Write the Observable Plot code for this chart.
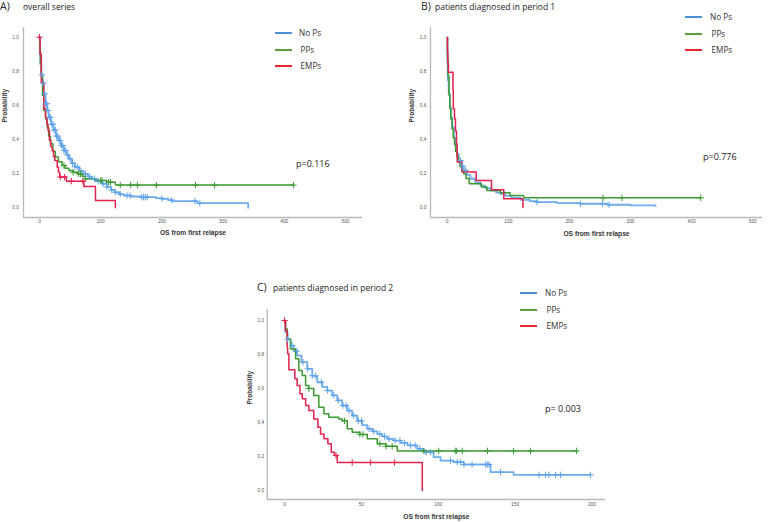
<!DOCTYPE html>
<html>
<head>
<meta charset="utf-8">
<script src="https://cdn.jsdelivr.net/npm/d3@7"></script>
<script src="https://cdn.jsdelivr.net/npm/@observablehq/plot@0.6"></script>
<style>
  body { margin: 0; background: #fff; }
  #wrap { position: relative; width: 770px; height: 522px; overflow: hidden; font-family: 'Open Sans', sans-serif; color: #222; }
  .abs { position: absolute; }
  .lt { position: absolute; line-height: 1; transform: translateY(-50%); white-space: nowrap; }
</style>
</head>
<body>
<div id="wrap"></div>
<script>
// ---------- DATA (time, survival probability) ----------
const seriesNames = ["No Ps", "PPs", "EMPs"];
const seriesColors = ["#5fa3ea", "#3b9a30", "#e3214c"];
const legendColors = ["#4f8fd8", "#5c9e3c", "#e8262e"];
const yTicks = [0, 0.2, 0.4, 0.6, 0.8, 1.0];
const xTicksAB = [0, 100, 200, 300, 400, 500];
const xTicksC = [0, 50, 100, 150, 200];
const pValues = ["p=0.116", "p=0.776", "p= 0.003"];
const titles = [["A)", "overall series"], ["B)", "patients diagnosed in period 1"], ["C)", "patients diagnosed in period 2"]];

// Panel A – overall series
const aNoPs = [[0,1],[0.5,0.9],[1.5,0.84],[3,0.78],[5,0.73],[7,0.67],[10,0.61],[12.5,0.57],[15,0.53],[19,0.49],[23,0.455],[27,0.42],[31,0.395],[35,0.365],[40,0.335],[44,0.31],[48,0.287],[53,0.262],[58,0.24],[65,0.215],[72,0.199],[79,0.183],[86,0.17],[94,0.155],[102,0.141],[110,0.122],[117,0.105],[123,0.091],[130,0.08],[138,0.072],[149,0.066],[165,0.062],[190,0.057],[200,0.053],[210,0.045],[217,0.039],[258,0.027],[341,0.027],[341,0]];
const aPPs = [[0,1],[0.5,0.93],[1.5,0.85],[3,0.77],[5,0.66],[7,0.57],[10,0.52],[12.5,0.47],[15,0.42],[18,0.375],[22,0.33],[26,0.297],[31,0.27],[37,0.248],[42,0.232],[48,0.219],[55,0.208],[62,0.199],[70,0.185],[75,0.17],[91,0.16],[110,0.15],[124,0.136],[125,0.133],[415,0.133]];
const aEMPs = [[0,1],[1,0.9],[3,0.736],[7,0.58],[9.8,0.53],[12,0.49],[14,0.453],[16.3,0.394],[18.5,0.36],[20.7,0.336],[23,0.3],[25,0.277],[29,0.238],[31,0.209],[33,0.18],[44,0.156],[72.4,0.125],[91.5,0.043],[124,0.043],[124,0]];
const aNoPsCens = [4,6,8,10,12,14,16,18,20,22,24,26,28,30,32,34,36,38,40,43,46,50,54,58,62,68,75,82,90,96,104,110,118,124,132,143,148,167,170,173,176,200,216,254,262];
const aPPsCens = [40,55,64,67,75,100,102,113,116,132,149,160,191,255,286,415];
const aEMPsCens = [0,34,41,52,71];

// Panel B – period 1
const bNoPs = [[0,1],[0.3,0.85],[0.8,0.77],[1,0.747],[2.5,0.67],[4.3,0.59],[6,0.53],[8.2,0.472],[11,0.41],[13.6,0.355],[16,0.315],[19,0.276],[23,0.245],[27,0.218],[32,0.192],[38,0.169],[46,0.148],[54.5,0.129],[62,0.114],[71,0.1],[80,0.088],[87,0.08],[95,0.068],[105,0.058],[120,0.045],[135,0.037],[147,0.031],[180,0.026],[218,0.022],[262,0.016],[300,0.012],[341,0.008]];
const bPPs = [[0,1],[0.5,0.88],[1.5,0.77],[3,0.66],[4.5,0.58],[6,0.52],[8,0.46],[10,0.41],[12,0.37],[14,0.33],[16,0.3],[18,0.27],[21,0.24],[24,0.215],[27,0.198],[31,0.17],[36,0.14],[56,0.12],[65,0.1],[87,0.087],[103,0.071],[125,0.057],[415,0.057]];
const bEMPs = [[0,1],[0.5,0.92],[1,0.845],[2,0.796],[9.5,0.69],[10,0.58],[12,0.52],[13.6,0.45],[15.2,0.375],[16.4,0.267],[24.5,0.208],[47.5,0.159],[72.5,0.104],[92.6,0.051],[124,0.051],[124,0]];
const bNoPsCens = [22,25,30,147,218,254,265];
const bPPsCens = [255,286,415];
const bEMPsCens = [];

// Panel C – period 2
const cNoPs = [[0,1],[0.5,0.93],[2,0.89],[3.9,0.853],[6,0.82],[8.2,0.794],[11,0.755],[14.8,0.716],[18,0.675],[21.3,0.637],[24.5,0.61],[27.8,0.588],[31,0.56],[34.3,0.53],[37.5,0.5],[40.8,0.47],[44,0.44],[47.3,0.41],[50.5,0.385],[53.8,0.363],[57,0.348],[60.3,0.333],[63.5,0.318],[66.8,0.304],[71,0.294],[75.5,0.28],[80,0.265],[86.3,0.245],[90.6,0.225],[97,0.196],[101.5,0.176],[110,0.167],[116.7,0.153],[134,0.108],[149,0.092],[199,0.092]];
const cPPs = [[0,1],[0.6,0.95],[1.7,0.89],[3.9,0.833],[7.2,0.775],[9.3,0.706],[11.5,0.676],[13.7,0.618],[15.8,0.6],[19,0.559],[22.3,0.49],[25.6,0.451],[28.8,0.431],[35.3,0.42],[37.5,0.41],[40.8,0.363],[44,0.343],[49,0.33],[53.8,0.304],[60.3,0.275],[66,0.26],[73.3,0.233],[190,0.233]];
const cEMPs = [[0,1],[0.6,0.94],[1.7,0.843],[2,0.804],[2.8,0.71],[6.7,0.657],[8.2,0.618],[10,0.569],[11.5,0.54],[13.7,0.5],[15.8,0.47],[19,0.42],[21.7,0.372],[23.4,0.333],[25.6,0.304],[28.2,0.275],[30.4,0.225],[32.5,0.206],[34.3,0.165],[89.6,0.165],[89.6,0]];
const cNoPsCens = [2,5,8,12,15,18,20,24,28,32,35,38,40,42,45,48,50,55,58,62,65,68,72,75,78,82,85,88,92,95,108,112.3,114.5,116.7,122,130.8,131.9,133,140.5,165.5,169.8,172,176.3,179.6,199];
const cPPsCens = [15.8,39,49,51,62,66,70,90.6,100.3,111,112,115.6,132,149,160,190];
const cEMPsCens = [0,33.5,44,56,71.6];

// ---------- helpers ----------
function stepAt(curve, t) {
  let s = curve[0][1];
  for (const [ct, cs] of curve) { if (ct <= t) s = cs; else break; }
  return s;
}
const FONT = "'Open Sans', sans-serif";
const wrap = document.getElementById("wrap");

function makePanel(cfg) {
  const marks = [
    Plot.ruleX([cfg.xDomain[0]], {stroke: "#b9b9b9", strokeWidth: 1.3}),
    Plot.ruleY([cfg.yDomain[0]], {stroke: "#b9b9b9", strokeWidth: 1.3}),
    Plot.text(["OS from first relapse"], {frameAnchor: "bottom", dy: cfg.xLabelDy, fontWeight: "bold", fontSize: 6.7, fill: "#333", fontFamily: "'Liberation Sans', Arial, sans-serif"}),
    Plot.text(["Probability"], {frameAnchor: "left", rotate: -90, dx: cfg.yLabelDx, fontWeight: "bold", fontSize: 6.5, fill: "#333", fontFamily: "'Liberation Sans', Arial, sans-serif"})
  ];
  cfg.curves.forEach((c, i) => {
    marks.push(Plot.line(c, {x: d => d[0], y: d => d[1], curve: "step-after", stroke: seriesColors[i], strokeWidth: i === 0 ? 1.8 : 1.5, strokeOpacity: i === 0 ? 0.9 : 1}));
  });
  cfg.cens.forEach((ts, i) => {
    const pts = ts.map(t => ({t, s: stepAt(cfg.curves[i], t)}));
    marks.push(Plot.dot(pts, {x: "t", y: "s", symbol: "plus", r: 2.2, stroke: seriesColors[i], strokeWidth: 1}));
  });
  const svg = Plot.plot({
    width: cfg.width, height: cfg.height,
    marginLeft: cfg.ml, marginRight: cfg.mr, marginTop: cfg.mt, marginBottom: cfg.mb,
    style: {fontFamily: "'Liberation Sans', Arial, sans-serif", fontSize: "4.8px", color: "#555", background: "transparent", overflow: "visible"},
    x: {domain: cfg.xDomain, ticks: cfg.xTicks, tickSize: 0, tickPadding: cfg.xPad, label: null, tickFormat: d => String(d)},
    y: {domain: cfg.yDomain, ticks: yTicks, tickSize: 0, tickPadding: cfg.yPad, label: null, tickFormat: d => d.toFixed(1).replace(".", ",")},
    marks
  });
  const holder = document.createElement("div");
  holder.className = "abs";
  holder.style.left = cfg.left + "px";
  holder.style.top = cfg.top + "px";
  holder.appendChild(svg);
  wrap.appendChild(holder);
}

// Panel A
makePanel({left: 0, top: 0, width: 385, height: 240, ml: 23, mr: 23, mt: 27, mb: 23,
  xDomain: [-26.1, 527.8], yDomain: [-0.057, 1.057], xTicks: xTicksAB, xPad: 2.5, yPad: 4.5,
  xLabelDy: 17, yLabelDx: -18.5,
  curves: [aNoPs, aPPs, aEMPs], cens: [aNoPsCens, aPPsCens, aEMPsCens]});
// Panel B
makePanel({left: 385, top: 0, width: 385, height: 240, ml: 45, mr: 8, mt: 27, mb: 23,
  xDomain: [-27.3, 516], yDomain: [-0.059, 1.059], xTicks: xTicksAB, xPad: 2.5, yPad: 4,
  xLabelDy: 18, yLabelDx: -18.5,
  curves: [bNoPs, bPPs, bEMPs], cens: [bNoPsCens, bPPsCens, bEMPsCens]});
// Panel C
makePanel({left: 240, top: 270, width: 385, height: 252, ml: 26.7, mr: 20, mt: 39, mb: 23,
  xDomain: [-11.3, 208.8], yDomain: [-0.053, 1.065], xTicks: xTicksC, xPad: 3.5, yPad: 3,
  xLabelDy: 19, yLabelDx: -17.7,
  curves: [cNoPs, cPPs, cEMPs], cens: [cNoPsCens, cPPsCens, cEMPsCens]});

// ---------- titles, legends, p-values ----------
function addText(txt, x, y, size, extra) {
  const d = document.createElement("div");
  d.className = "lt";
  d.style.left = x + "px"; d.style.top = y + "px";
  d.style.fontSize = size + "px";
  if (extra) Object.assign(d.style, extra);
  d.textContent = txt;
  wrap.appendChild(d);
}
const titlePos = [[0, 6, 23], [421, 6, 435], [257, 287, 273]];
titles.forEach((t, i) => {
  const [x, y, x2] = titlePos[i];
  addText(t[0], x, y, 10.5);
  addText(t[1], x2, y + 0.5, 8.5);
});
const legendPos = [[275, 33, 16.7, 299], [685, 17, 16.5, 710], [520, 293, 16.5, 545]];
legendPos.forEach(([x, y, dy, tx]) => {
  seriesNames.forEach((n, i) => {
    const ln = document.createElement("div");
    ln.className = "abs";
    Object.assign(ln.style, {left: x + "px", top: (y + i * dy - 1) + "px", width: "17px", height: "2px", background: legendColors[i]});
    wrap.appendChild(ln);
    addText(n, tx + (i > 0 ? 1.5 : 0), y + i * dy, 8.2, {color: "#333"});
  });
});
const pPos = [[296, 163], [703, 156], [545, 408]];
pValues.forEach((p, i) => addText(p, pPos[i][0], pPos[i][1], 9, {color: "#222"}));
</script>
</body>
</html>
